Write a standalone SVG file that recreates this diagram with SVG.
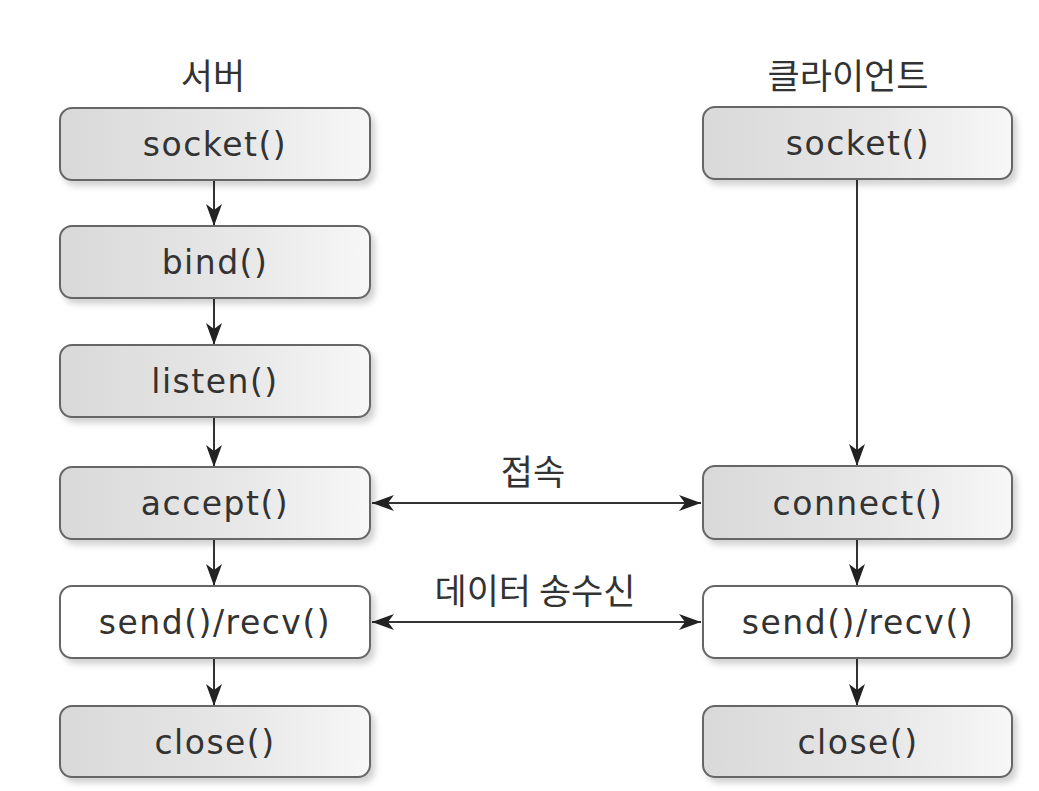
<svg xmlns="http://www.w3.org/2000/svg" width="1039" height="791" viewBox="0 0 1039 791">
<style>
.box{stroke:#666;stroke-width:2}
.g{fill:url(#grad)}
.w{fill:#fff}
.lbl{font-family:"DejaVu Sans","Noto Sans",sans-serif;font-size:33px;letter-spacing:1.5px;fill:#333;text-anchor:middle}
.ko{font-family:"Noto Sans CJK KR","Noto Sans",sans-serif;font-size:35px;fill:#333;text-anchor:middle}
.ln{stroke:#333;stroke-width:2;fill:none}
</style>
<defs>
<linearGradient id="grad" x1="0" y1="0" x2="1" y2="0">
<stop offset="0" stop-color="#d9d9d9"/>
<stop offset="0.6" stop-color="#e8e8e8"/>
<stop offset="1" stop-color="#f7f7f7"/>
</linearGradient>
<filter id="sh" x="-10%" y="-20%" width="125%" height="150%">
<feDropShadow dx="4" dy="5" stdDeviation="3" flood-color="#000" flood-opacity="0.18"/>
</filter>
<marker id="ah" viewBox="0 0 22 16" markerWidth="22" markerHeight="16" refX="22" refY="8" orient="auto-start-reverse" markerUnits="userSpaceOnUse">
<path d="M0,0 L22,8 L0,16 L6,8 z" fill="#222"/>
</marker>
</defs>
<rect width="1039" height="791" fill="#fff"/>
<text class="ko" x="213" y="89">서버</text>
<text class="ko" x="848" y="89">클라이언트</text>
<g id="connectors">
<line class="ln" x1="214" y1="180" x2="214" y2="226" marker-end="url(#ah)"/>
<line class="ln" x1="214" y1="298" x2="214" y2="345" marker-end="url(#ah)"/>
<line class="ln" x1="214" y1="417" x2="214" y2="467" marker-end="url(#ah)"/>
<line class="ln" x1="214" y1="539" x2="214" y2="586" marker-end="url(#ah)"/>
<line class="ln" x1="214" y1="658" x2="214" y2="706" marker-end="url(#ah)"/>
<line class="ln" x1="857" y1="179" x2="857" y2="466" marker-end="url(#ah)"/>
<line class="ln" x1="857" y1="539" x2="857" y2="586" marker-end="url(#ah)"/>
<line class="ln" x1="857" y1="658" x2="857" y2="706" marker-end="url(#ah)"/>
<line class="ln" x1="372" y1="503" x2="701" y2="503" marker-start="url(#ah)" marker-end="url(#ah)"/>
<line class="ln" x1="372" y1="622" x2="701" y2="622" marker-start="url(#ah)" marker-end="url(#ah)"/>
<text class="ko" x="533" y="485">접속</text>
<text class="ko" x="535" y="604">데이터 송수신</text>
</g>
<g id="s-socket"><rect class="box g" x="60" y="108" width="310" height="72" rx="12" filter="url(#sh)"/><text class="lbl" x="215" y="156">socket()</text></g>
<g id="s-bind"><rect class="box g" x="60" y="226" width="310" height="72" rx="12" filter="url(#sh)"/><text class="lbl" x="215" y="274">bind()</text></g>
<g id="s-listen"><rect class="box g" x="60" y="345" width="310" height="72" rx="12" filter="url(#sh)"/><text class="lbl" x="215" y="393">listen()</text></g>
<g id="s-accept"><rect class="box g" x="60" y="467" width="310" height="72" rx="12" filter="url(#sh)"/><text class="lbl" x="215" y="515">accept()</text></g>
<g id="s-sendrecv"><rect class="box w" x="60" y="586" width="310" height="72" rx="12" filter="url(#sh)"/><text class="lbl" x="215" y="634">send()/recv()</text></g>
<g id="s-close"><rect class="box g" x="60" y="706" width="310" height="71" rx="12" filter="url(#sh)"/><text class="lbl" x="215" y="754">close()</text></g>
<g id="c-socket"><rect class="box g" x="703" y="107" width="309" height="72" rx="12" filter="url(#sh)"/><text class="lbl" x="858" y="155">socket()</text></g>
<g id="c-connect"><rect class="box g" x="703" y="466" width="309" height="73" rx="12" filter="url(#sh)"/><text class="lbl" x="858" y="515">connect()</text></g>
<g id="c-sendrecv"><rect class="box w" x="703" y="586" width="309" height="72" rx="12" filter="url(#sh)"/><text class="lbl" x="858" y="634">send()/recv()</text></g>
<g id="c-close"><rect class="box g" x="703" y="706" width="309" height="71" rx="12" filter="url(#sh)"/><text class="lbl" x="858" y="754">close()</text></g>
</svg>
